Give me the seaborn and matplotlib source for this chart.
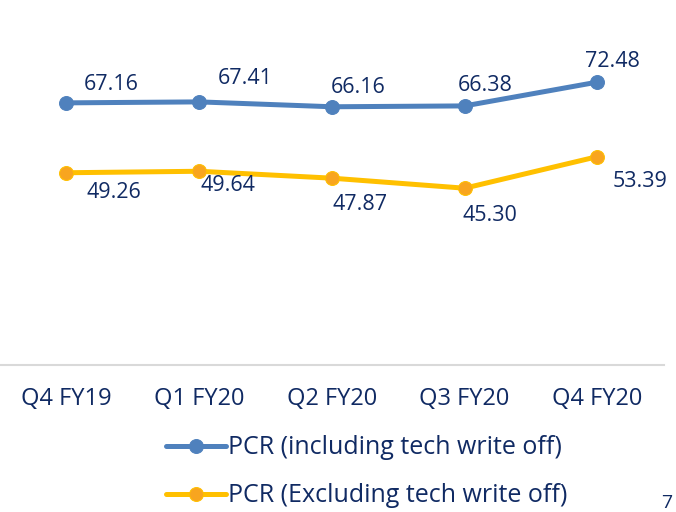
import matplotlib
matplotlib.use("Agg")
import matplotlib.pyplot as plt
import seaborn as sns

# datos
quarters = ["Q4 FY19", "Q1 FY20", "Q2 FY20", "Q3 FY20", "Q4 FY20"]
pcr_incl = [67.16, 67.41, 66.16, 66.38, 72.48]
pcr_excl = [49.26, 49.64, 47.87, 45.30, 53.39]
label_incl = "PCR (including tech write off)"
label_excl = "PCR (Excluding tech write off)"

# desplazamiento de las etiquetas (puntos)
off_incl = [(32, 13), (33, 17), (19, 14), (15, 15), (11, 15)]
off_excl = [(34, -14), (21, -10), (20, -19), (18, -20), (31, -18)]

sns.set_theme(style="white")
plt.rcParams["font.family"] = ["Open Sans", "DejaVu Sans"]

navy = "#102a63"
blue = "#4f81bd"
gold = "#ffc000"

fig = plt.figure(figsize=(6.76, 5.12), dpi=100)
ax = fig.add_axes([0.0, 0.287, 0.982, 0.61])

sns.lineplot(x=quarters, y=pcr_incl, ax=ax, color=blue, linewidth=3.6,
             marker="o", markersize=10, markeredgecolor=blue, label=label_incl, sort=False)
sns.lineplot(x=quarters, y=pcr_excl, ax=ax, color=gold, linewidth=3.6,
             marker="o", markersize=10, markerfacecolor="#f8a51f", markeredgecolor=gold,
             label=label_excl, sort=False)

for i, v in enumerate(pcr_incl):
    ax.annotate(f"{v:.2f}", (i, v), xytext=off_incl[i], textcoords="offset points",
                ha="center", va="center", fontsize=15.5, color=navy)
for i, v in enumerate(pcr_excl):
    ax.annotate(f"{v:.2f}", (i, v), xytext=off_excl[i], textcoords="offset points",
                ha="center", va="center", fontsize=15.5, color=navy)

ax.set_xlim(-0.5, 4.5)
ax.set_ylim(0, 80)
ax.set_yticks([])
ax.set_xlabel("")
ax.set_ylabel("")
for s in ["top", "right", "left"]:
    ax.spines[s].set_visible(False)
ax.spines["bottom"].set_color("#d9d9d9")
ax.spines["bottom"].set_linewidth(1.5)
ax.tick_params(axis="x", length=0, pad=16, labelsize=17, labelcolor=navy)

ax.legend(loc="upper left", bbox_to_anchor=(0.25, -0.225), frameon=False,
          fontsize=18, labelcolor=navy, handlelength=2.4, handletextpad=0.1,
          labelspacing=0.92, borderaxespad=0, borderpad=0)

fig.text(0.978, 0.0, "7", fontsize=14, color=navy, ha="left", va="bottom")

fig.savefig("out.png", dpi=100)
